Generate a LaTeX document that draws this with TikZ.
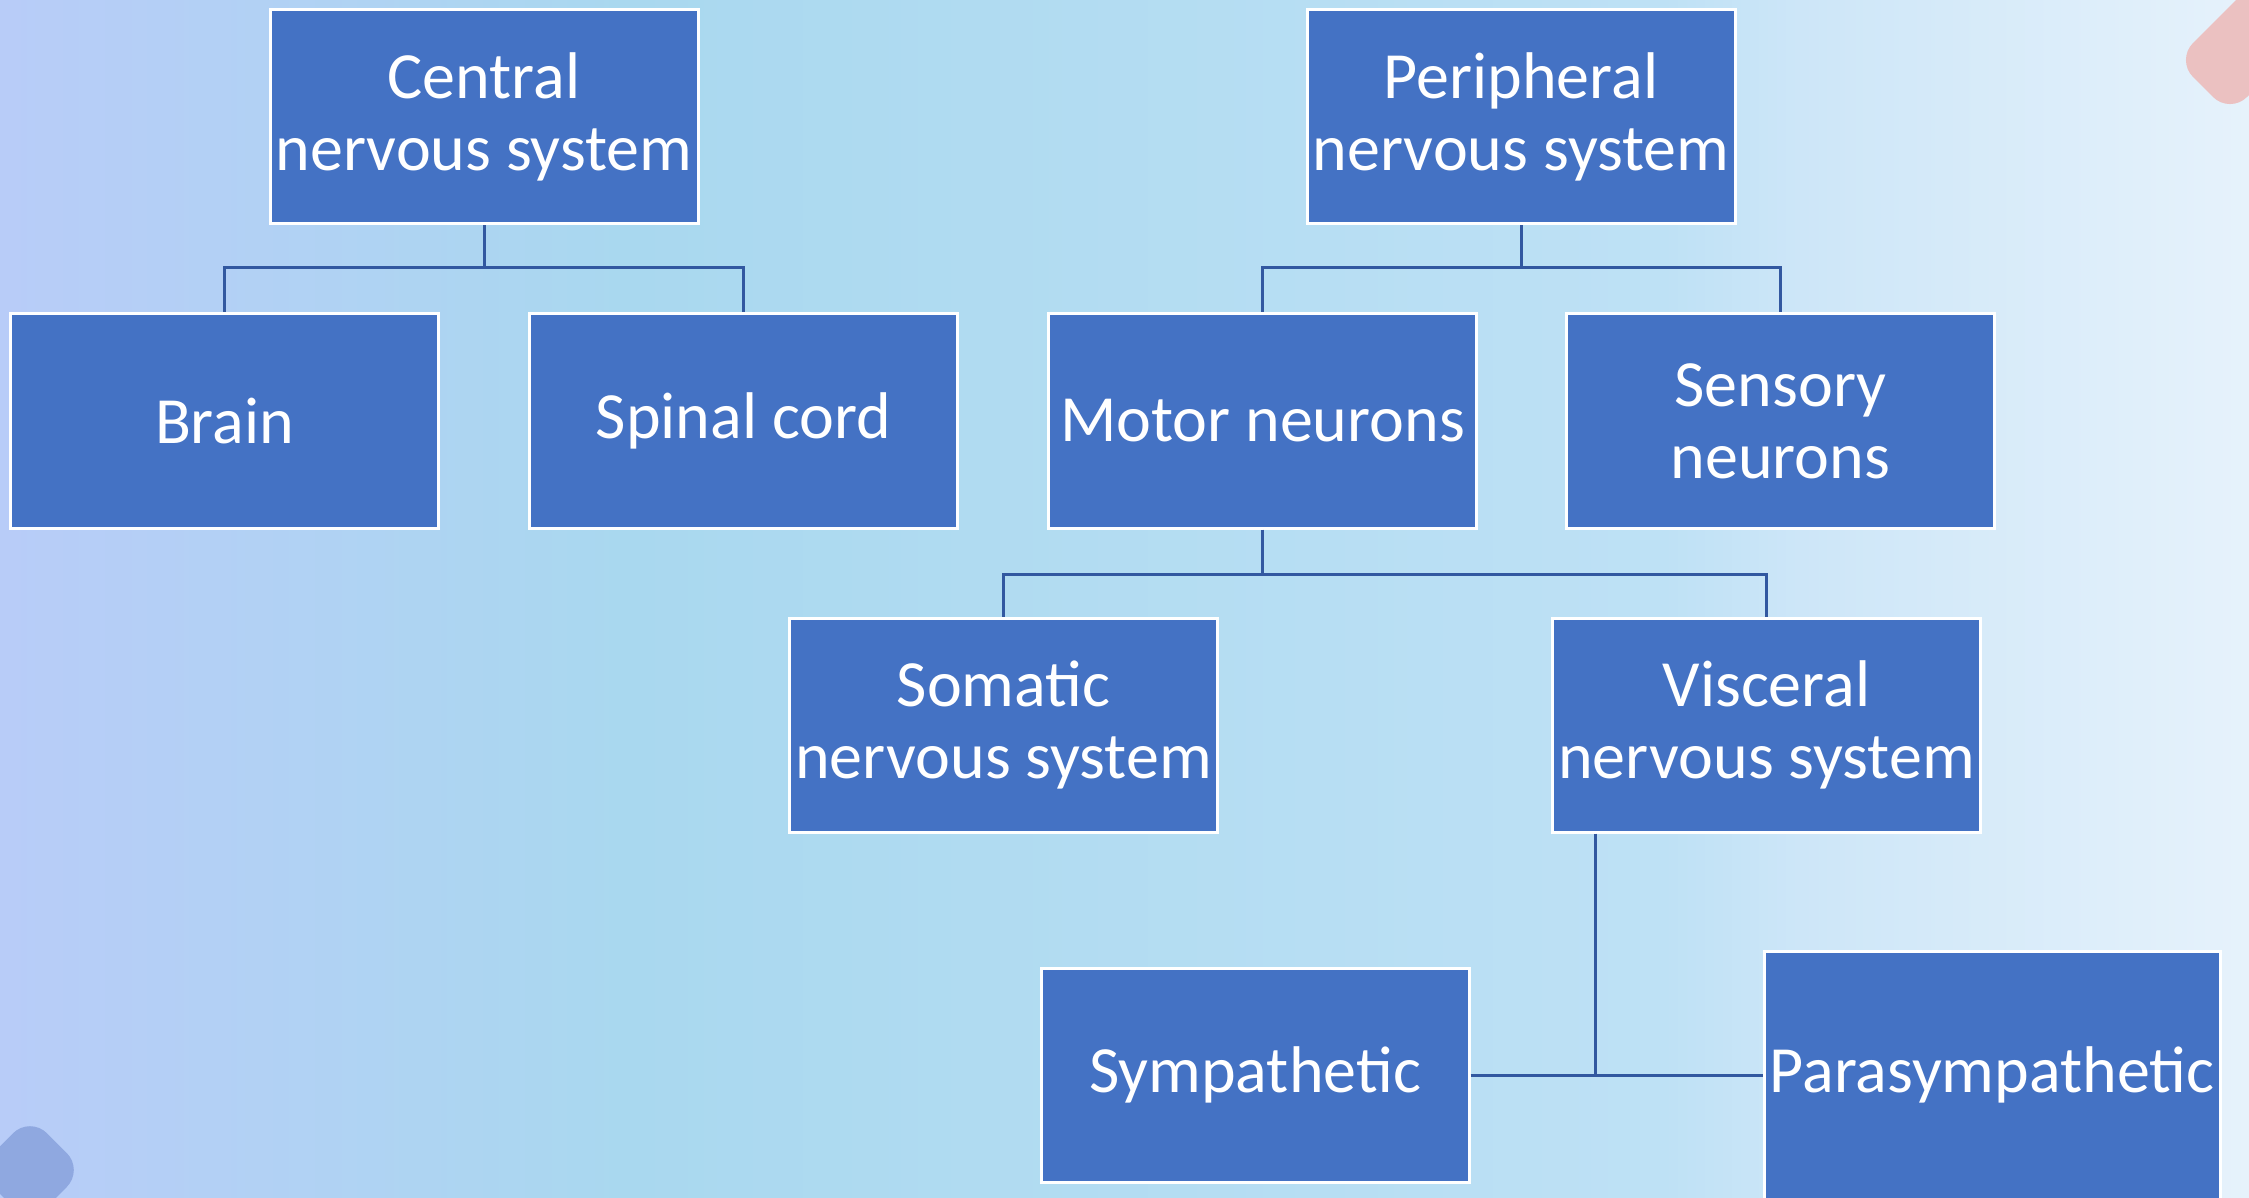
\documentclass[tikz,border=0pt]{standalone}
\usepackage{fontspec}
\setmainfont{Carlito}
\definecolor{boxblue}{RGB}{68,114,196}
\definecolor{linkblue}{RGB}{50,88,160}
\definecolor{bgA}{RGB}{184,204,248}
\definecolor{bgB}{RGB}{169,216,239}
\definecolor{bgC}{RGB}{190,225,245}
\definecolor{bgD}{RGB}{205,230,248}
\definecolor{bgE}{RGB}{230,242,251}
\definecolor{pinkdeco}{RGB}{235,193,193}
\definecolor{bluedeco}{RGB}{143,168,224}
\pgfdeclarehorizontalshading{bgshade}{100bp}{color(0bp)=(bgA); color(25bp)=(bgA); color(39bp)=(bgB); color(62bp)=(bgC); color(65bp)=(bgD); color(75bp)=(bgE); color(100bp)=(bgE)}
\tikzset{
  orgbox/.style={draw=white, line width=1.5pt, fill=boxblue, text=white,
    minimum width=214pt, minimum height=107pt, inner sep=0pt, align=center,
    font=\fontsize{33}{36}\selectfont},
  conn/.style={draw=linkblue, line width=1.5pt}
}
\begin{document}
\begin{tikzpicture}[x=0.5pt,y=-0.5pt]
\useasboundingbox (0,0) rectangle (2249,1198);
\clip (0,0) rectangle (2249,1198);
\shade[shading=bgshade] (0,0) rectangle (2249,1198);
\fill[pinkdeco, rounded corners=12pt] (2176,60) -- (2230,114) -- (2330,14) -- (2276,-40) -- cycle;
\fill[bluedeco, rounded corners=12pt, rotate around={45:(30,1170)}] (-8,1132) rectangle (68,1208);

\node[orgbox] (cns) at (484,117) {Central\\nervous system};
\node[orgbox] (pns) at (1521,117) {Peripheral\\nervous system};
\node[orgbox] (brain) at (224.5,421) {Brain};
\node[orgbox] (spinal) at (743.5,421) {Spinal cord};
\node[orgbox] (motor) at (1262.5,421) {Motor neurons};
\node[orgbox] (sensory) at (1780.5,421) {Sensory\\neurons};
\node[orgbox] (somatic) at (1003.5,725) {Somatic\\nervous system};
\node[orgbox] (visceral) at (1766.5,725) {Visceral\\nervous system};
\node[orgbox] (symp) at (1255,1075) {Sympathetic};
\node[orgbox, minimum width=228pt, minimum height=124pt] (para) at (1992,1075) {Parasympathetic};

\coordinate (barA) at (0,268);
\coordinate (barB) at (0,574);
\coordinate (vx) at (1595,0);
\coordinate (vjoin) at (1595,1075);

\draw[conn] (cns.south) -- (cns.south |- barA) -| (brain.north);
\draw[conn] (cns.south |- barA) -| (spinal.north);
\draw[conn] (pns.south) -- (pns.south |- barA) -| (motor.north);
\draw[conn] (pns.south |- barA) -| (sensory.north);
\draw[conn] (motor.south) -- (motor.south |- barB) -| (somatic.north);
\draw[conn] (motor.south |- barB) -| (visceral.north);
\draw[conn] (visceral.south -| vx) -- (vjoin);
\draw[conn] (symp.east) -- (vjoin) -- (para.west);
\end{tikzpicture}
\end{document}
